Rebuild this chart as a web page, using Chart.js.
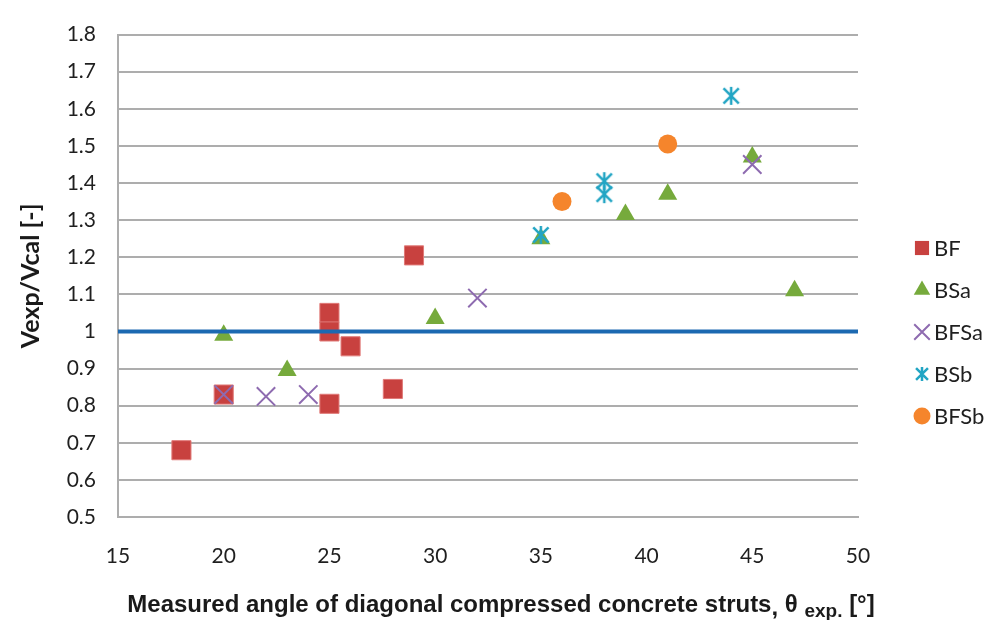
<!DOCTYPE html>
<html>
<head>
<meta charset="utf-8">
<script src="https://cdn.jsdelivr.net/npm/chart.js@4/dist/chart.umd.min.js"></script>
<style>
  body { margin: 0; background: #fff; }
  canvas { display: block; }
</style>
</head>
<body>
<canvas id="scatterChart" width="992" height="620"></canvas>
<script>
// values
const bfX = [18, 20, 25, 25, 25, 26, 28, 29];
const bfY = [0.68, 0.83, 1.05, 1.0, 0.805, 0.96, 0.845, 1.205];

const bsaX = [20, 23, 30, 35, 39, 41, 45, 47];
const bsaY = [0.99, 0.895, 1.035, 1.25, 1.315, 1.37, 1.47, 1.11];

const bfsaX = [20, 22, 24, 32, 45];
const bfsaY = [0.83, 0.825, 0.83, 1.09, 1.45];

const bsbX = [35, 38, 38, 44];
const bsbY = [1.26, 1.405, 1.37, 1.635];

const bfsbX = [36, 41];
const bfsbY = [1.35, 1.505];

const refX = [15, 50];
const refY = [1, 1];

const seriesNames = ['BF', 'BSa', 'BFSa', 'BSb', 'BFSb'];
const xTicks = [15, 20, 25, 30, 35, 40, 45, 50];

const colors = {
  BF: '#c8413f',
  BSa: '#76aa3c',
  BFSa: '#8e6bb0',
  BSb: '#22a5c4',
  BFSb: '#f5852c',
  ref: '#1c69b1',
  grid: '#adadad',
  text: '#1f1f1f'
};

const toPoints = (xs, ys) => xs.map((x, i) => ({ x: x, y: ys[i] }));

// Excel-like asterisk: vertical stroke plus an X
function makeAsterisk(size, color, width) {
  const c = document.createElement('canvas');
  c.width = size;
  c.height = size;
  const g = c.getContext('2d');
  const m = size / 2, r = size / 2 - 1;
  g.strokeStyle = color;
  g.lineWidth = width;
  g.beginPath();
  g.moveTo(m, m - r); g.lineTo(m, m + r);
  g.moveTo(m - r * 0.85, m - r * 0.85); g.lineTo(m + r * 0.85, m + r * 0.85);
  g.moveTo(m + r * 0.85, m - r * 0.85); g.lineTo(m - r * 0.85, m + r * 0.85);
  g.stroke();
  return c;
}

const asteriskBig = makeAsterisk(20, colors.BSb, 2.5);
const asteriskSmall = makeAsterisk(16, colors.BSb, 2.5);

const datasets = [
  {
    type: 'line',
    label: 'ref',
    data: toPoints(refX, refY),
    borderColor: colors.ref,
    borderWidth: 4,
    pointRadius: 0,
    order: 0
  },
  {
    label: 'BF',
    data: toPoints(bfX, bfY),
    pointStyle: 'rect',
    pointRadius: 13.5,
    backgroundColor: colors.BF,
    borderColor: '#e07a78',
    borderWidth: 1,
    order: 5
  },
  {
    label: 'BSa',
    data: toPoints(bsaX, bsaY),
    pointStyle: 'triangle',
    pointRadius: 11,
    backgroundColor: colors.BSa,
    borderColor: colors.BSa,
    borderWidth: 0,
    order: 4
  },
  {
    label: 'BFSa',
    data: toPoints(bfsaX, bfsaY),
    pointStyle: 'crossRot',
    pointRadius: 13,
    backgroundColor: colors.BFSa,
    borderColor: colors.BFSa,
    borderWidth: 2,
    order: 3
  },
  {
    label: 'BSb',
    data: toPoints(bsbX, bsbY),
    pointStyle: asteriskBig,
    pointRadius: 10,
    backgroundColor: colors.BSb,
    borderColor: colors.BSb,
    order: 2
  },
  {
    label: 'BFSb',
    data: toPoints(bfsbX, bfsbY),
    pointStyle: 'circle',
    pointRadius: 9.5,
    backgroundColor: colors.BFSb,
    borderColor: colors.BFSb,
    borderWidth: 0,
    order: 1
  }
];

// legend on the right, drawn by hand so it sits where the original does
const sideLegend = {
  id: 'sideLegend',
  afterDraw: chart => {
    const ctx = chart.ctx;
    const marks = [
      { pointStyle: 'rect', radius: 10, color: colors.BF },
      { pointStyle: 'triangle', radius: 9.5, color: colors.BSa },
      { pointStyle: 'crossRot', radius: 11, color: colors.BFSa, line: 2 },
      { pointStyle: asteriskSmall, radius: 8, color: colors.BSb },
      { pointStyle: 'circle', radius: 8.5, color: colors.BFSb }
    ];
    ctx.save();
    ctx.font = '22px Lato';
    ctx.textBaseline = 'middle';
    seriesNames.forEach((name, i) => {
      const y = 248 + i * 42;
      const m = marks[i];
      ctx.fillStyle = m.color;
      ctx.strokeStyle = m.color;
      ctx.lineWidth = m.line || 1;
      Chart.helpers.drawPoint(ctx, { pointStyle: m.pointStyle, radius: m.radius, rotation: 0, borderWidth: m.line || 0 }, 922, y);
      ctx.fillStyle = colors.text;
      ctx.fillText(name, 934, y + 1);
    });
    ctx.restore();
  }
};

// x title with the subscript part
const xTitle = {
  id: 'xTitle',
  afterDraw: chart => {
    const ctx = chart.ctx;
    const big = 'bold 24px "Liberation Sans"';
    const parts = [
      { t: 'Measured angle of diagonal compressed concrete struts', f: big, dy: 0 },
      { t: ', ', f: big, dy: 3 },
      { t: '\u03b8 ', f: big, dy: 0 },
      { t: 'exp.', f: 'bold 19px "Liberation Sans"', dy: 5 },
      { t: ' [\u00b0]', f: big, dy: 0 }
    ];
    ctx.save();
    let total = 0;
    parts.forEach(p => { ctx.font = p.f; p.w = ctx.measureText(p.t).width; total += p.w; });
    let x = 501 - total / 2;
    ctx.fillStyle = '#1a1a1a';
    ctx.textBaseline = 'alphabetic';
    parts.forEach(p => {
      ctx.font = p.f;
      ctx.fillText(p.t, x, 612 + p.dy);
      x += p.w;
    });
    ctx.restore();
  }
};

const ctx = document.getElementById('scatterChart').getContext('2d');

const scatterChart = new Chart(ctx, {
  type: 'scatter',
  data: { datasets: datasets },
  options: {
    responsive: false,
    animation: false,
    devicePixelRatio: 1,
    layout: {
      padding: { top: 22, right: 134, left: 0, bottom: 0 }
    },
    plugins: {
      legend: { display: false },
      tooltip: { enabled: false }
    },
    scales: {
      x: {
        type: 'linear',
        min: 15,
        max: 50,
        afterBuildTicks: axis => { axis.ticks = xTicks.map(v => ({ value: v })); },
        afterFit: axis => { axis.height = 103; },
        grid: { display: false, drawTicks: false },
        border: { display: true, color: colors.grid, width: 2 },
        ticks: {
          color: colors.text,
          font: { family: 'Lato', size: 21 },
          padding: 27,
          maxRotation: 0
        }
      },
      y: {
        min: 0.5,
        max: 1.8,
        afterFit: axis => { axis.width = 118; },
        grid: { color: colors.grid, lineWidth: 2, drawTicks: false },
        border: { display: true, color: colors.grid, width: 2 },
        ticks: {
          stepSize: 0.1,
          color: colors.text,
          font: { family: 'Lato', size: 21 },
          padding: 22,
          callback: v => String(+v.toFixed(1))
        },
        title: {
          display: true,
          text: 'Vexp/Vcal [-]',
          color: '#1a1a1a',
          font: { family: 'Lato', size: 25, weight: 'bold' },
          padding: { top: 16, bottom: 0 }
        }
      }
    }
  },
  plugins: [sideLegend, xTitle]
});
</script>
</body>
</html>
